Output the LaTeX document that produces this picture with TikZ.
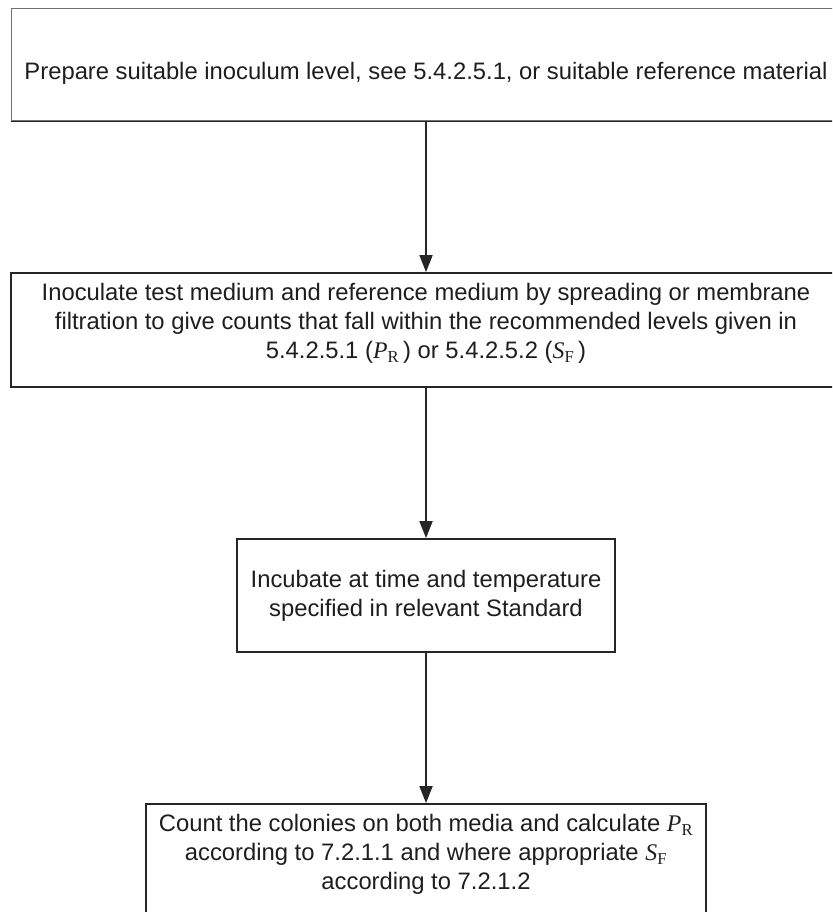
\documentclass[tikz,border=0pt]{standalone}
\usepackage{fontspec}
\setmainfont{Liberation Sans}
\newfontfamily\tnr{Liberation Serif}
\usetikzlibrary{arrows.meta}
\definecolor{ln}{HTML}{262626}
\definecolor{thinln}{HTML}{707070}
\definecolor{tx}{HTML}{1E1E1E}
\newcommand\symP{{\tnr\itshape P}\textsubscript{\tnr R}}
\newcommand\symS{{\tnr\itshape S}\textsubscript{\tnr F}}
\begin{document}
\begin{tikzpicture}[x=1pt,y=-1pt,
  box/.style={draw=ln, line width=1.8pt, inner sep=0pt},
  txt/.style={align=center, font=\fontsize{23.8}{29}\selectfont, text=tx, inner sep=0pt},
  arr/.style={draw=ln, line width=1.8pt, -{Triangle[length=17pt,width=13pt]}}]
\useasboundingbox (0,0) rectangle (832,912);
\fill[white] (0,0) rectangle (832,912);
\clip (0,0) rectangle (832,912);
% boxes
\node[box, draw=thinln, line width=1pt, minimum width=830, minimum height=112] (b1) at (426,65) {};
\draw[ln, line width=1.8pt] (b1.south west) -- (b1.south east);
\node[box, minimum width=830, minimum height=114] (b2) at (426,330) {};
\node[box, minimum width=378, minimum height=113] (b3) at (426,595.5) {};
\node[box, minimum width=560, minimum height=112] (b4) at (426,860) {};
% texts
\node[txt] (t1) at (426,73) {Prepare suitable inoculum level, see 5.4.2.5.1, or suitable reference material};
\node[txt] (t2) at (426,323.5) {Inoculate test medium and reference medium by spreading or membrane\\filtration to give counts that fall within the recommended levels given in\\5.4.2.5.1 (\symP\,) or 5.4.2.5.2 (\symS\,)};
\node[txt] (t3) at (426,595.5) {Incubate at time and temperature\\specified in relevant Standard};
\node[txt] (t4) at (426,854.5) {Count the colonies on both media and calculate \symP\\according to 7.2.1.1 and where appropriate \symS\\according to 7.2.1.2};
% connectors
\draw[arr] (b1.south) -- (b2.north);
\draw[arr] (b2.south) -- (b3.north);
\draw[arr] (b3.south) -- (b4.north);
\end{tikzpicture}
\end{document}
